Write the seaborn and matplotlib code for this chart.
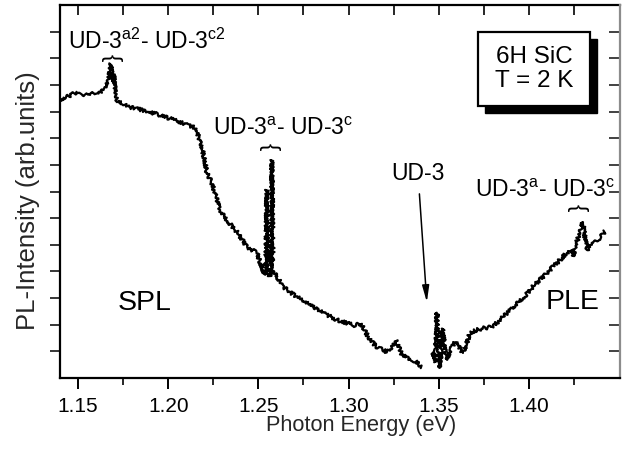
import matplotlib
matplotlib.use("Agg")
import matplotlib.pyplot as plt
from matplotlib.patches import Rectangle
import pandas as pd
import seaborn as sns

# ---- data (photon energy in eV, PL intensity arb. units) ----
spl_energy = [1.1400, 1.1440, 1.1483, 1.1520, 1.1555, 1.1590, 1.1610, 1.1650, 1.1668,
              1.1683, 1.1690, 1.1698, 1.1705, 1.1716, 1.1750, 1.1777, 1.1830, 1.1888,
              1.1940, 1.1999, 1.2050, 1.2110, 1.2140, 1.2160, 1.2176, 1.2187, 1.2215,
              1.2243, 1.2287, 1.2326, 1.2381, 1.2437, 1.2492, 1.2525, 1.2536, 1.2542,
              1.2547, 1.2552, 1.2564, 1.2570, 1.2575, 1.2581, 1.2592, 1.2636, 1.2714,
              1.2786, 1.2858, 1.2936, 1.2990, 1.3040, 1.3060, 1.3080, 1.3118, 1.3157,
              1.3190, 1.3213, 1.3245, 1.3263, 1.3296, 1.3330, 1.3357, 1.3385, 1.3405]
spl_intensity = [10.45, 10.55, 10.70, 10.60, 10.62, 10.70, 10.65, 10.90, 11.10,
                 11.80, 11.10, 11.40, 10.80, 10.43, 10.30, 10.17, 10.10, 10.00,
                 9.90, 9.76, 9.65, 9.50, 9.42, 9.20, 8.93, 8.67, 7.70,
                 7.30, 6.30, 5.93, 5.48, 4.92, 4.69, 4.05, 3.87, 4.10,
                 7.06, 3.95, 3.80, 4.10, 8.18, 4.00, 3.94, 3.42, 3.04,
                 2.74, 2.44, 2.18, 2.06, 1.95, 2.05, 1.90, 1.43, 1.16,
                 1.05, 0.98, 1.20, 1.43, 0.86, 0.75, 0.68, 0.55, 0.40]

ple_energy = [1.3468, 1.3480, 1.3490, 1.3496, 1.3506, 1.3515, 1.3523, 1.3535, 1.3545,
              1.3565, 1.3590, 1.3610, 1.3634, 1.3655, 1.3673, 1.3710, 1.3750, 1.3784,
              1.3810, 1.3839, 1.3890, 1.3933, 1.3980, 1.4022, 1.4070, 1.4116, 1.4160,
              1.4210, 1.4225, 1.4244, 1.4265, 1.4285, 1.4299, 1.4312, 1.4325, 1.4350,
              1.4377, 1.4400, 1.4421]
ple_intensity = [0.95, 0.60, 2.45, 0.80, 0.38, 1.20, 1.85, 1.00, 0.68,
                 1.10, 1.35, 1.20, 0.94, 1.30, 1.69, 1.80, 1.88, 1.90,
                 2.00, 2.18, 2.50, 2.80, 3.10, 3.43, 3.75, 4.05, 4.35,
                 4.70, 4.80, 4.55, 5.10, 5.50, 5.85, 5.20, 4.80, 5.00,
                 5.15, 5.30, 5.50]

x_major_ticks = [1.15, 1.20, 1.25, 1.30, 1.35, 1.40]
x_tick_labels = ["1.15", "1.20", "1.25", "1.30", "1.35", "1.40"]
x_minor_ticks = [1.175, 1.225, 1.275, 1.325, 1.375, 1.425]
y_ticks = list(range(1, 14))

# ---- style ----
sns.set_theme(style="ticks")
plt.rcParams["font.family"] = ["Liberation Sans", "DejaVu Sans"]
plt.rcParams["mathtext.fontset"] = "custom"
plt.rcParams["mathtext.rm"] = "Liberation Sans"
plt.rcParams["mathtext.it"] = "Liberation Sans"
plt.rcParams["mathtext.bf"] = "Liberation Sans:bold"
plt.rcParams["text.color"] = "black"
plt.rcParams["axes.edgecolor"] = "black"

fig = plt.figure(figsize=(6.28, 4.49), dpi=100)
ax = fig.add_axes([60 / 628, 71 / 449, 560 / 628, 373 / 449])

df_spl = pd.DataFrame({"energy": spl_energy, "intensity": spl_intensity})
df_ple = pd.DataFrame({"energy": ple_energy, "intensity": ple_intensity})
sns.lineplot(data=df_spl, x="energy", y="intensity", ax=ax, color="black",
             lw=1.6, estimator=None, sort=False)
sns.lineplot(data=df_ple, x="energy", y="intensity", ax=ax, color="black",
             lw=1.6, estimator=None, sort=False)
# rendering style only: a fine jitter so the trace looks like a noisy spectrum
for ln in ax.lines:
    ln.set_sketch_params(scale=1.8, length=1, randomness=5)

ax.set_xlim(1.14, 1.4505)
ax.set_ylim(0, 14)

# bottom / left axes
ax.set_xticks(x_major_ticks)
ax.set_xticklabels(x_tick_labels)
ax.set_xticks(x_minor_ticks, minor=True)
ax.set_yticks(y_ticks)
ax.set_yticklabels([])
ax.tick_params(axis="x", which="major", direction="out", length=8, width=1.4,
               labelsize=15, pad=6, colors="black")
ax.tick_params(axis="x", which="minor", direction="out", length=5, width=1.4)
ax.tick_params(axis="y", which="major", direction="out", length=7, width=1.3)
for s in ["left", "bottom"]:
    ax.spines[s].set_linewidth(1.6)
    ax.spines[s].set_color("black")
ax.spines["top"].set_visible(False)
ax.spines["right"].set_visible(False)

# top axis: inward ticks
top = ax.secondary_xaxis("top")
top.set_xticks(x_major_ticks + x_minor_ticks)
top.set_xticklabels([])
top.tick_params(direction="in", length=7, width=1.4)
top.spines["top"].set_linewidth(1.6)
top.spines["top"].set_color("black")

# right axis: inward ticks, grey spine
right = ax.secondary_yaxis("right")
right.set_yticks(y_ticks)
right.set_yticklabels([])
right.tick_params(direction="in", length=8, width=1.3, color="#333333")
right.spines["right"].set_linewidth(1.6)
right.spines["right"].set_color("#8c8c8c")

ax.set_xlabel("Photon Energy (eV)", fontsize=15.7)
ax.xaxis.set_label_coords(0.5375, -0.098)
ax.set_ylabel("PL-Intensity (arb.units)", fontsize=18.5)
ax.yaxis.set_label_coords(-0.036, 0.475)

# ---- annotations ----
afs = 16.5
ax.text(1.1444, 12.35, r"UD-$3^{\mathrm{a2}}$- UD-$3^{\mathrm{c2}}$", fontsize=afs,
        ha="left", va="baseline")
ax.text(1.2248, 9.12, r"UD-$3^{\mathrm{a}}$- UD-$3^{\mathrm{c}}$", fontsize=afs,
        ha="left", va="baseline")
ax.text(1.3700, 6.79, r"UD-$3^{\mathrm{a}}$- UD-$3^{\mathrm{c}}$", fontsize=afs,
        ha="left", va="baseline")
ax.annotate("UD-3", xy=(1.3434, 2.85), xytext=(1.3385, 7.43), fontsize=afs,
            ha="center", va="baseline",
            arrowprops=dict(arrowstyle="-|>,head_length=0.7,head_width=0.15",
                            lw=1.1, color="black", shrinkA=4, shrinkB=0,
                            mutation_scale=14))
# small braces
for bx, by in [(1.1683, 12.01), (1.2559, 8.67), (1.4266, 6.38)]:
    ax.text(bx, by, "{", rotation=-90, fontsize=16, ha="center", va="center")

ax.text(1.1871, 2.82, "SPL", fontsize=20.5, ha="center", va="center")
ax.text(1.4244, 2.85, "PLE", fontsize=20.5, ha="center", va="center")

# boxed sample label with a solid black drop shadow (~7 px right, ~7 px down)
bx0, by0, bx1, by1 = 1.3717, 10.21, 1.4338, 12.99
dx, dy = 0.0040, 0.26
ax.add_patch(Rectangle((bx0 + dx, by0 - dy), bx1 - bx0, by1 - by0, facecolor="black",
                       edgecolor="black", lw=1.0, zorder=8))
ax.add_patch(Rectangle((bx0, by0), bx1 - bx0, by1 - by0, facecolor="white",
                       edgecolor="black", lw=1.6, zorder=9))
ax.text((bx0 + bx1) / 2, 11.6, "6H SiC\nT = 2 K", fontsize=17.5, ha="center",
        va="center", linespacing=1.1, zorder=10)

fig.savefig("out.png", dpi=100)
